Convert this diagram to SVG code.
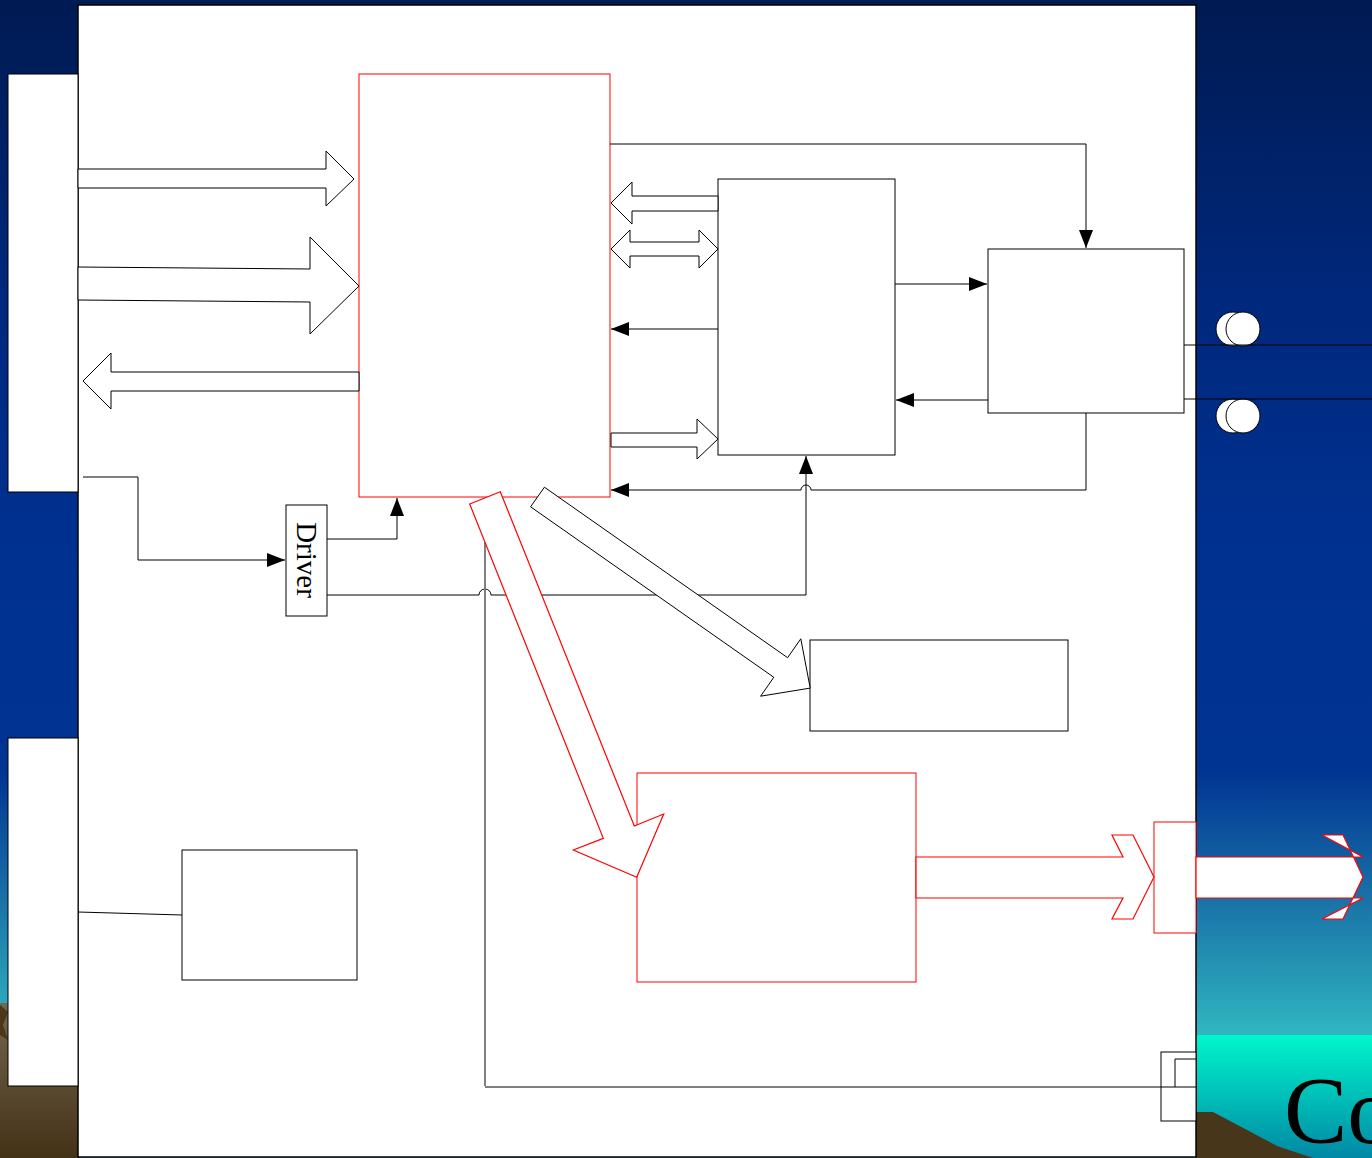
<svg xmlns="http://www.w3.org/2000/svg" width="1372" height="1158" viewBox="0 0 1372 1158">
<defs>
<linearGradient id="bg" x1="0" y1="0" x2="0" y2="1158" gradientUnits="userSpaceOnUse">
<stop offset="0" stop-color="#001a52"/>
<stop offset="0.26" stop-color="#00287c"/>
<stop offset="0.45" stop-color="#00308f"/>
<stop offset="0.665" stop-color="#003492"/>
<stop offset="0.78" stop-color="#1a74a8"/>
<stop offset="0.893" stop-color="#30b6c0"/>
<stop offset="1" stop-color="#30b6c0"/>
</linearGradient>
<linearGradient id="sea" x1="0" y1="1035" x2="0" y2="1158" gradientUnits="userSpaceOnUse">
<stop offset="0" stop-color="#00f6cc"/>
<stop offset="1" stop-color="#0088a4"/>
</linearGradient>
<linearGradient id="earth" x1="0" y1="1003" x2="0" y2="1158" gradientUnits="userSpaceOnUse">
<stop offset="0" stop-color="#746650"/>
<stop offset="1" stop-color="#443216"/>
</linearGradient>
<marker id="ah" viewBox="0 0 18 14" refX="18" refY="7" markerWidth="18" markerHeight="14" markerUnits="userSpaceOnUse" orient="auto">
<path d="M0,0 L18,7 L0,14 Z" fill="#000"/>
</marker>
<style>
.box{fill:#fff;stroke:#000;stroke-width:1}
.rbox{fill:#fff;stroke:#ff0000;stroke-width:1}
.ln{fill:none;stroke:#000;stroke-width:1}
.blk{fill:#fff;stroke:#000;stroke-width:1;stroke-linejoin:miter}
.rblk{fill:#fff;stroke:#ff0000;stroke-width:1.2}
.lbl{font-family:"Liberation Serif","Times New Roman",serif;fill:#000}
</style>
</defs>

<!-- background -->
<g id="background">
<rect x="0" y="0" width="1372" height="1158" fill="url(#bg)"/>
<rect x="1196" y="1035" width="176" height="123" fill="url(#sea)"/>
<polygon points="1196,1112 1213,1112 1277,1146 1313,1158 1196,1158" fill="#47361a"/>
<rect x="0" y="1003" width="80" height="155" fill="url(#earth)"/>
<polygon points="0,1005 8,1012 3,1025 8,1040 0,1035" fill="#4a3818"/>
<text class="lbl" x="1284" y="1143" font-size="95">Co</text>
</g>

<!-- main panel -->
<g id="panel">
<rect x="78" y="5" width="1118" height="1152" fill="#fff" stroke="#000" stroke-width="1.5"/>
</g>

<g id="left-box-top"><rect class="box" x="8" y="74" width="70" height="418"/></g>
<g id="left-box-bottom"><rect class="box" x="8" y="738" width="70" height="348"/></g>

<g id="main-block"><rect class="rbox" x="359" y="74" width="251" height="423"/></g>
<g id="block-b"><rect class="box" x="718" y="179" width="177" height="276"/></g>
<g id="block-c"><rect class="box" x="988" y="249" width="196" height="164"/></g>
<g id="block-d"><rect class="box" x="810" y="640" width="258" height="91"/></g>
<g id="block-e"><rect class="rbox" x="637" y="773" width="279" height="209"/></g>
<g id="block-f"><rect class="box" x="182" y="850" width="175" height="130"/></g>
<g id="driver">
<rect class="box" x="286" y="505" width="41" height="111"/>
<text class="lbl" x="0" y="0" font-size="29" text-anchor="middle" transform="translate(297,560) rotate(90)">Driver</text>
</g>
<g id="connector-port"><rect class="rbox" x="1154" y="822" width="42" height="111"/></g>
<g id="small-port">
<rect class="box" x="1161" y="1052" width="35" height="69" fill="none"/>
<path class="ln" d="M1175,1087 V1059 H1196"/>
</g>
<g id="sockets">
<circle cx="1233" cy="329" r="17" fill="#fff" stroke="#000" stroke-width="1"/>
<circle cx="1243" cy="329" r="17" fill="#fff" stroke="#000" stroke-width="1"/>
<circle cx="1233" cy="416" r="17" fill="#fff" stroke="#000" stroke-width="1"/>
<circle cx="1243" cy="416" r="17" fill="#fff" stroke="#000" stroke-width="1"/>
</g>

<g id="connectors">
<!-- left block arrows -->
<polygon class="blk" points="78,169 326,169 326,151 354,179 326,206 326,188 78,188"/>
<polygon class="blk" points="78,267 310,269 310,237 359,286 310,334 310,302 78,300"/>
<polygon class="blk" points="359,372 111,372 111,353 83,381 111,409 111,391 359,391"/>
<!-- main <-> B block arrows -->
<polygon class="blk" points="718,196 632,196 632,182 611,203 632,224 632,211 718,211"/>
<polygon class="blk" points="630,242 699,242 699,230 718,249 699,268 699,256 630,256 630,268 611,249 630,230"/>
<polygon class="blk" points="611,433 697,433 697,419 718,439 697,459 697,447 611,447"/>
<!-- thin lines -->
<path class="ln" d="M610,144 H1086 V248" marker-end="url(#ah)"/>
<path class="ln" d="M895,284 H987" marker-end="url(#ah)"/>
<path class="ln" d="M988,400 H896" marker-end="url(#ah)"/>
<path class="ln" d="M718,329 H611" marker-end="url(#ah)"/>
<path class="ln" d="M1086,413 V490 H811 A5,5 0 0 0 801,490 H611" marker-end="url(#ah)"/>
<path class="ln" d="M327,539 H397 V498" marker-end="url(#ah)"/>
<path class="ln" d="M327,595 H479 A6,6 0 0 1 491,595 H806 V456" marker-end="url(#ah)"/>
<path class="ln" d="M83,477 H138 V560 H285" marker-end="url(#ah)"/>
<path d="M485,542 V1086" fill="none" stroke="#808080" stroke-width="2"/>
<path class="ln" d="M485,1087 H1196"/>
<path class="ln" d="M78,912 L182,915"/>
<path class="ln" d="M1184,345 H1372"/>
<path class="ln" d="M1184,399 H1372"/>
<!-- diagonal block arrows -->
<polygon class="blk" points="544.4,487.2 787.6,657.7 800.8,638.8 810.2,688.1 760.6,696.2 773.8,677.3 530.6,506.8"/>
<polygon class="rblk" points="500.3,491.7 634.3,826 663.7,814 636.7,877.3 573.3,850 603.3,838.3 469.7,504"/>
<!-- output arrows -->
<polygon class="rblk" points="916,857 1123,857 1112,835 1133,835 1154,877 1133,919 1112,919 1123,898 916,898"/>
<polygon class="rblk" points="1196,857 1363,857 1322,835 1343,835 1363,877 1343,919 1322,919 1363,898 1196,898"/>
</g>
</svg>
